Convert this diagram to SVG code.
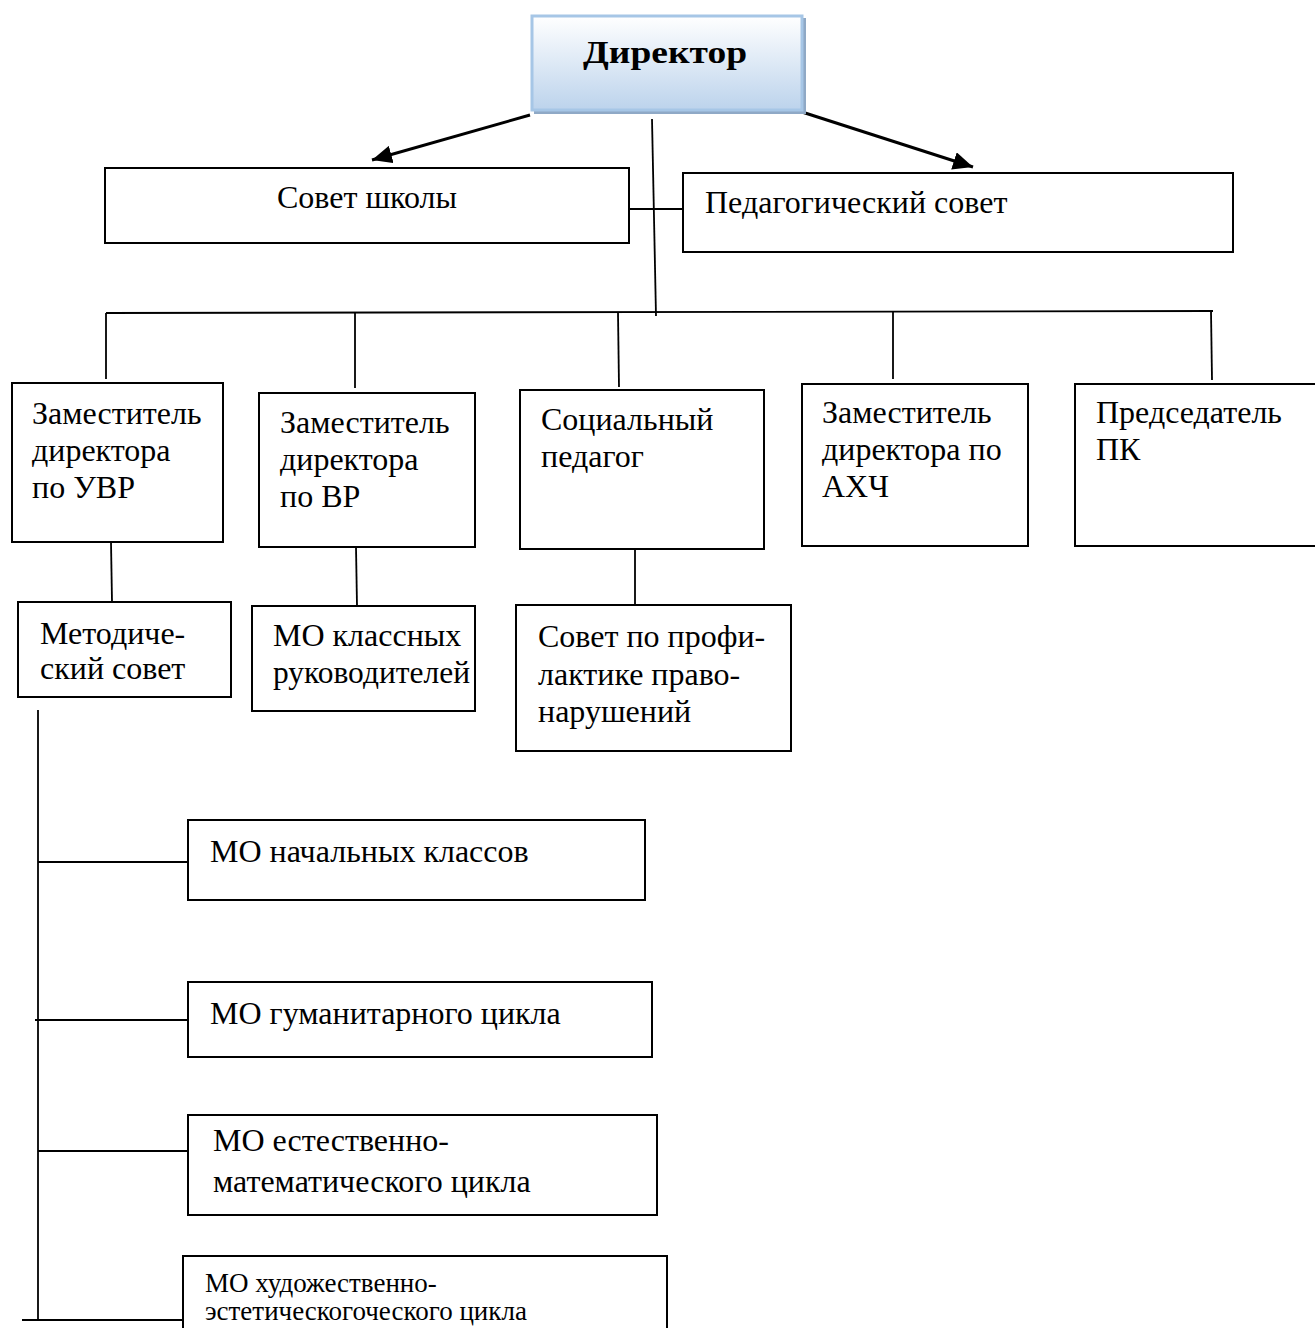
<svg xmlns="http://www.w3.org/2000/svg" width="1315" height="1328" viewBox="0 0 1315 1328">
<style>
text{font-family:"Liberation Serif","Times New Roman",serif;font-size:32px;fill:#000}
.box{fill:#fff;stroke:#000;stroke-width:2}
.ln{stroke:#000;stroke-width:1.8;fill:none}
.arr{stroke:#000;stroke-width:3;fill:none;marker-end:url(#ah)}
.small{font-size:27px}
</style>
<defs>
<linearGradient id="dg" x1="0" y1="0" x2="0" y2="1">
<stop offset="0" stop-color="#ffffff"/>
<stop offset="1" stop-color="#bcd3ec"/>
</linearGradient>
<marker id="ah" markerUnits="userSpaceOnUse" markerWidth="22" markerHeight="18" refX="20" refY="9" orient="auto">
<path d="M0,0 L20,9 L0,18 Z" fill="#000"/>
</marker>
</defs>
<rect width="1315" height="1328" fill="#fff"/>
<g id="connectors">
<line class="arr" x1="530" y1="115" x2="372" y2="160"/>
<line class="arr" x1="802" y1="112" x2="973" y2="167"/>
<line class="ln" x1="652" y1="119" x2="656" y2="316"/>
<line class="ln" x1="629" y1="209" x2="687" y2="209"/>
<line class="ln" x1="106" y1="313" x2="1213" y2="311"/>
<line class="ln" x1="106" y1="313" x2="106" y2="379"/>
<line class="ln" x1="355" y1="313" x2="355" y2="388"/>
<line class="ln" x1="618" y1="313" x2="619" y2="387"/>
<line class="ln" x1="893" y1="312" x2="893" y2="379"/>
<line class="ln" x1="1211" y1="311" x2="1212" y2="380"/>
<line class="ln" x1="111" y1="542" x2="112" y2="602"/>
<line class="ln" x1="356" y1="547" x2="357" y2="606"/>
<line class="ln" x1="635" y1="549" x2="635" y2="605"/>
<line class="ln" x1="38" y1="710" x2="38" y2="1321"/>
<line class="ln" x1="38" y1="862" x2="188" y2="862"/>
<line class="ln" x1="35" y1="1020" x2="188" y2="1020"/>
<line class="ln" x1="38" y1="1151" x2="188" y2="1151"/>
<line class="ln" x1="22" y1="1320" x2="183" y2="1320"/>
</g>
<g id="director">
<rect x="534" y="18" width="272" height="96" fill="#8fa9c6"/>
<rect x="532" y="16" width="270" height="94" fill="url(#dg)" stroke="#a6c6e6" stroke-width="3"/>
<text x="583" y="63" font-weight="bold" font-size="40" textLength="164" lengthAdjust="spacingAndGlyphs">Директор</text>
</g>
<g id="sovet-shkoly">
<rect class="box" x="105" y="168" width="524" height="75"/>
<text x="277" y="208">Совет школы</text>
</g>
<g id="ped-sovet">
<rect class="box" x="683" y="173" width="550" height="79"/>
<text x="705" y="213">Педагогический совет</text>
</g>
<g id="zam-uvr">
<rect class="box" x="12" y="383" width="211" height="159"/>
<text x="32" y="424">Заместитель</text>
<text x="32" y="461">директора</text>
<text x="32" y="498">по УВР</text>
</g>
<g id="zam-vr">
<rect class="box" x="259" y="393" width="216" height="154"/>
<text x="280" y="433">Заместитель</text>
<text x="280" y="470">директора</text>
<text x="280" y="507">по ВР</text>
</g>
<g id="soc-ped">
<rect class="box" x="520" y="390" width="244" height="159"/>
<text x="541" y="430">Социальный</text>
<text x="541" y="467">педагог</text>
</g>
<g id="zam-ahch">
<rect class="box" x="802" y="384" width="226" height="162"/>
<text x="822" y="423">Заместитель</text>
<text x="822" y="460">директора по</text>
<text x="822" y="497">АХЧ</text>
</g>
<g id="pk">
<rect class="box" x="1075" y="384" width="250" height="162"/>
<text x="1096" y="423">Председатель</text>
<text x="1096" y="460">ПК</text>
</g>
<g id="metod-sovet">
<rect class="box" x="18" y="602" width="213" height="95"/>
<text x="40" y="644">Методиче-</text>
<text x="40" y="679">ский совет</text>
</g>
<g id="mo-klass">
<rect class="box" x="252" y="606" width="223" height="105"/>
<text x="273" y="646">МО классных</text>
<text x="273" y="683" textLength="197" lengthAdjust="spacingAndGlyphs">руководителей</text>
</g>
<g id="sovet-prof">
<rect class="box" x="516" y="605" width="275" height="146"/>
<text x="538" y="647">Совет по профи-</text>
<text x="538" y="685">лактике право-</text>
<text x="538" y="722">нарушений</text>
</g>
<g id="mo-nach">
<rect class="box" x="188" y="820" width="457" height="80"/>
<text x="210" y="862">МО начальных классов</text>
</g>
<g id="mo-gum">
<rect class="box" x="188" y="982" width="464" height="75"/>
<text x="210" y="1024">МО гуманитарного цикла</text>
</g>
<g id="mo-est">
<rect class="box" x="188" y="1115" width="469" height="100"/>
<text x="213" y="1151">МО естественно-</text>
<text x="213" y="1192">математического цикла</text>
</g>
<g id="mo-hud">
<rect class="box" x="183" y="1256" width="484" height="90"/>
<text class="small" x="205" y="1292">МО художественно-</text>
<text class="small" x="205" y="1320">эстетическогоческого цикла</text>
</g>
</svg>
